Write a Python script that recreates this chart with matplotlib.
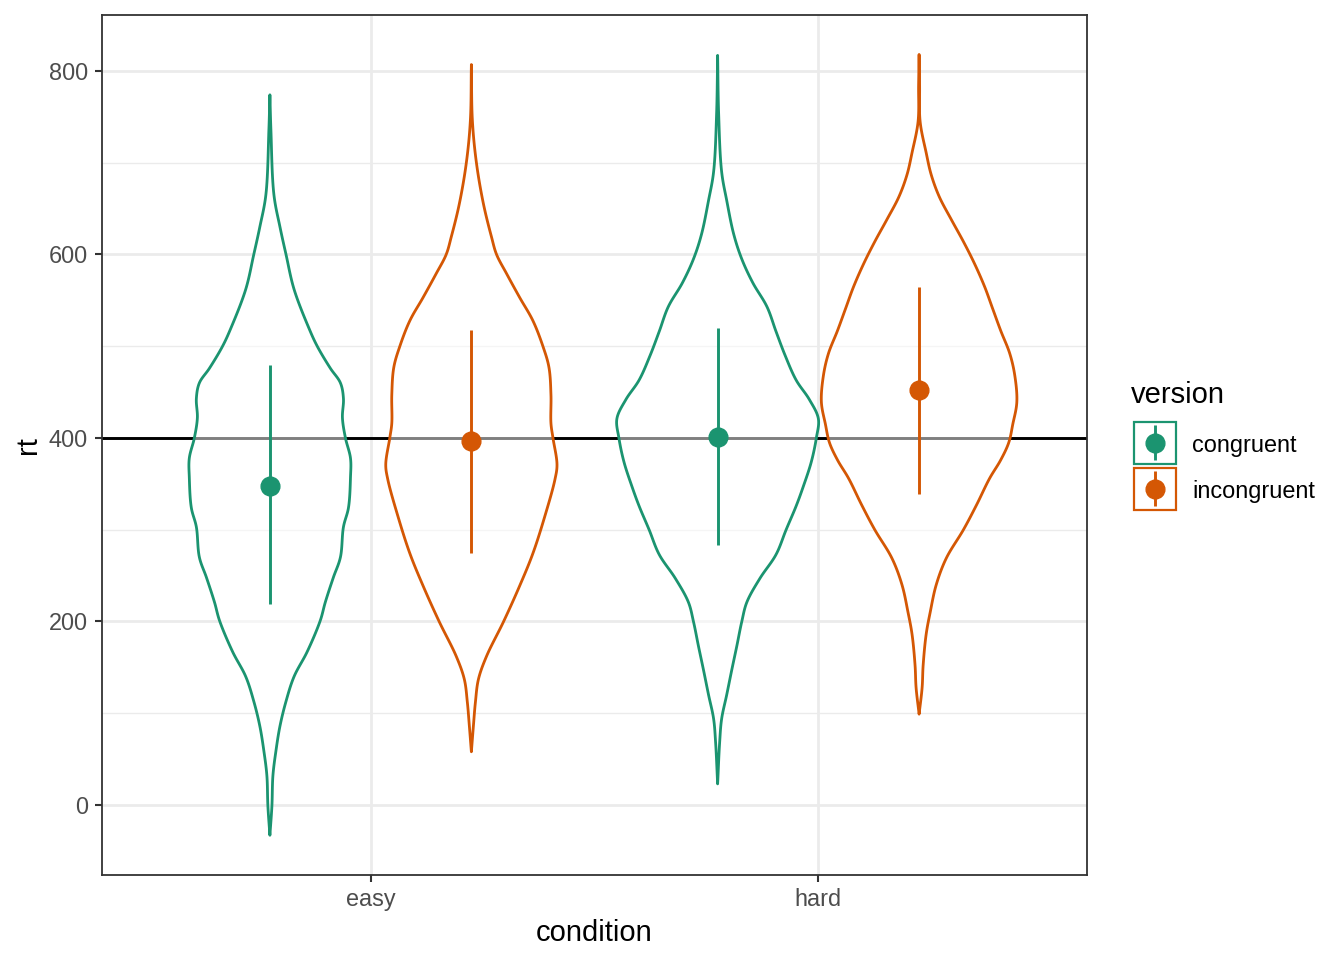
import numpy as np
import matplotlib
matplotlib.use("Agg")
import matplotlib.pyplot as plt
from matplotlib.patches import Rectangle, Polygon

plt.rcParams['font.family'] = ['Liberation Sans', 'DejaVu Sans']

# ---------------- data ----------------
conditions = ["easy", "hard"]
versions = ["congruent", "incongruent"]
version_colors = ["#1B9470", "#D45704"]

# group order: easy-congruent, easy-incongruent, hard-congruent, hard-incongruent
group_condition = ["easy", "easy", "hard", "hard"]
group_version = ["congruent", "incongruent", "congruent", "incongruent"]

# point ranges (mean with interval)
point_mean = [348, 397, 401, 452]
point_low = [219, 275, 283, 339]
point_high = [479, 518, 520, 565]

# violin outlines: rt level and relative density (percent of widest violin)
v_easy_cong_rt = [774, 736, 665, 630, 600, 562, 519, 500, 476, 460, 443, 422, 400, 378, 357,
                  324, 303, 270, 248, 221, 201, 167, 140, 113, 86, 59, 32, -1, -33]
v_easy_cong_dens = [0, 1, 4, 10, 16, 24, 39, 47, 60, 70, 73, 72, 75, 80, 80,
                    78, 73, 70, 63, 55, 50, 37, 24, 16, 10, 6, 3, 2, 0]

v_easy_incong_rt = [807, 746, 700, 655, 619, 600, 579, 553, 528, 500, 477, 447, 416, 400, 371,
                    355, 315, 274, 239, 200, 162, 137, 112, 86, 58]
v_easy_incong_dens = [0, 1, 5, 12, 20, 25, 35, 48, 61, 71, 77, 79, 79, 81, 85,
                      83, 73, 61, 48, 32, 15, 7, 4, 2, 0]

v_hard_cong_rt = [817, 754, 690, 659, 622, 595, 569, 543, 516, 490, 463, 442, 421, 400, 374,
                  347, 326, 300, 273, 247, 221, 200, 173, 147, 120, 94, 68, 23]
v_hard_cong_dens = [0, 1, 4, 9, 16, 24, 35, 49, 58, 67, 78, 91, 100, 98, 93,
                    85, 78, 68, 58, 42, 29, 24, 19, 14, 9, 4, 2, 0]

v_hard_incong_rt = [818, 784, 745, 711, 687, 663, 638, 614, 590, 565, 541, 517, 492, 468, 439,
                    415, 395, 376, 356, 327, 300, 269, 240, 210, 186, 152, 128, 99]
v_hard_incong_dens = [0, 0.5, 1, 7, 12, 20, 32, 44, 55, 65, 73, 81, 90, 95, 97,
                      93, 89, 81, 70, 57, 44, 27, 17, 11, 7, 4, 3, 0]

violin_rt = [v_easy_cong_rt, v_easy_incong_rt, v_hard_cong_rt, v_hard_incong_rt]
violin_dens = [v_easy_cong_dens, v_easy_incong_dens, v_hard_cong_dens, v_hard_incong_dens]

reference_rt = 400
y_ticks = [0, 200, 400, 600, 800]
y_minor = [100, 300, 500, 700]

X_PX_PER_UNIT = 448.0   # approx pixel scale, used only to shape the curve
Y_PX_PER_UNIT = 0.9175


def smooth_outline(xs, ys, n=14):
    """Centripetal Catmull-Rom curve through the read outline points (rendering only)."""
    P = np.column_stack([np.asarray(xs, float) * X_PX_PER_UNIT,
                         np.asarray(ys, float) * Y_PX_PER_UNIT])
    first = 2 * P[0] - P[1]
    last = 2 * P[-1] - P[-2]
    P = np.vstack([first, P, last])
    out = []
    for i in range(1, len(P) - 2):
        p0, p1, p2, p3 = P[i - 1], P[i], P[i + 1], P[i + 2]
        t0 = 0.0
        t1 = t0 + max(np.linalg.norm(p1 - p0), 1e-6) ** 0.5
        t2 = t1 + max(np.linalg.norm(p2 - p1), 1e-6) ** 0.5
        t3 = t2 + max(np.linalg.norm(p3 - p2), 1e-6) ** 0.5
        t = np.linspace(t1, t2, n, endpoint=False)[:, None]
        a1 = (t1 - t) / (t1 - t0) * p0 + (t - t0) / (t1 - t0) * p1
        a2 = (t2 - t) / (t2 - t1) * p1 + (t - t1) / (t2 - t1) * p2
        a3 = (t3 - t) / (t3 - t2) * p2 + (t - t2) / (t3 - t2) * p3
        b1 = (t2 - t) / (t2 - t0) * a1 + (t - t0) / (t2 - t0) * a2
        b2 = (t3 - t) / (t3 - t1) * a2 + (t - t1) / (t3 - t1) * a3
        c = (t2 - t) / (t2 - t1) * b1 + (t - t1) / (t2 - t1) * b2
        out.append(c)
    out.append(P[-2][None, :])
    out = np.vstack(out)
    hx = np.clip(out[:, 0] / X_PX_PER_UNIT, 0, None)
    hy = out[:, 1] / Y_PX_PER_UNIT
    return hx, hy


# ---------------- figure ----------------
W, H = 1344, 960
fig = plt.figure(figsize=(W / 100, H / 100), dpi=100)
ax = fig.add_axes([102 / W, 1 - 875 / H, (1087 - 102) / W, (875 - 15) / H])

dodge = 0.225          # half of dodge width 0.9 for two groups
max_half_width = 0.225  # half of violin width 0.45

ax.set_xlim(0.4, 2.6)
ax.set_ylim(-76.3, 861)

grid_c = "#EBEBEB"
for y in y_ticks:
    ax.axhline(y, color=grid_c, lw=2.0, zorder=0)
for y in y_minor:
    ax.axhline(y, color=grid_c, lw=1.0, zorder=0)
for i in range(len(conditions)):
    ax.axvline(i + 1, color=grid_c, lw=2.0, zorder=0)

ax.axhline(reference_rt, color="black", lw=2.1, zorder=1)

for g in range(4):
    ci = conditions.index(group_condition[g])
    vi = versions.index(group_version[g])
    xc = ci + 1 + (-dodge if vi == 0 else dodge)
    col = version_colors[vi]
    hw_raw = np.array(violin_dens[g], float) / 100.0 * max_half_width
    hw, rt = smooth_outline(hw_raw, violin_rt[g])
    xs = np.concatenate([xc + hw, (xc - hw)[::-1]])
    ys = np.concatenate([rt, rt[::-1]])
    poly = Polygon(np.column_stack([xs, ys]), closed=True, facecolor=(1, 1, 1, 0.5),
                   edgecolor=col, lw=2.0, joinstyle="round", zorder=2)
    ax.add_patch(poly)
    ax.plot([xc, xc], [point_low[g], point_high[g]], color=col, lw=2.1,
            solid_capstyle="butt", zorder=3)
    ax.plot([xc], [point_mean[g]], marker="o", ms=13.5, color=col, mec=col, zorder=4)

ax.set_xticks([1, 2])
ax.set_xticklabels(conditions)
ax.set_yticks(y_ticks)
ax.set_yticklabels([str(v) for v in y_ticks])
ax.tick_params(axis="both", colors="#333333", labelcolor="#4D4D4D", labelsize=16.9,
               length=5.3, width=1.5)
ax.tick_params(axis="y", pad=5)
ax.tick_params(axis="x", pad=4)
for s in ax.spines.values():
    s.set_color("#333333")
    s.set_linewidth(1.3)
    s.set_zorder(5)
ax.set_xlabel("condition", fontsize=21, color="black", labelpad=6)
ax.set_ylabel("rt", fontsize=21, color="black", labelpad=5)

# ---------------- legend ----------------
lax = fig.add_axes([0, 0, 1, 1], facecolor="none")
lax.set_xlim(0, W)
lax.set_ylim(H, 0)
lax.axis("off")
lax.text(1131, 403, "version", fontsize=21, color="black", ha="left", va="baseline")
key_top = [421, 467]
for vi, v in enumerate(versions):
    col = version_colors[vi]
    top = key_top[vi]
    lax.add_patch(Rectangle((1133.5, top + 0.5), 42, 42, facecolor="white",
                            edgecolor=col, lw=1.6))
    cx, cy = 1154.5, top + 21.5
    lax.plot([cx, cx], [top + 4, top + 39], color=col, lw=2.1, solid_capstyle="butt")
    lax.plot([cx], [cy], marker="o", ms=13.5, color=col, mec=col)
    lax.text(1192, cy + 3, v, fontsize=16.9, color="black", ha="left", va="center")

fig.savefig("out.png", dpi=100, facecolor="white")
